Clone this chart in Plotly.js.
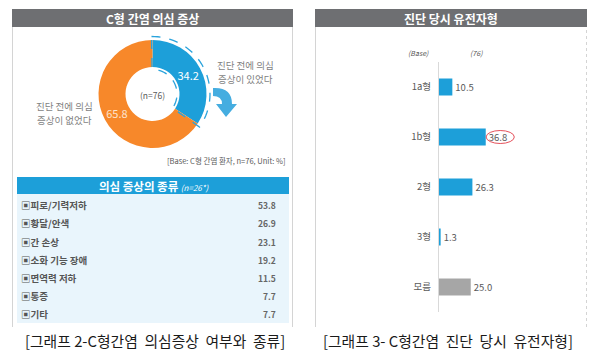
<!DOCTYPE html>
<html>
<head>
<meta charset="utf-8">
<script src="https://cdn.plot.ly/plotly-3.0.1.min.js"></script>
<style>html,body{margin:0;padding:0;background:#fff;}#chart{width:600px;height:356px;}</style>
</head>
<body>
<div id="chart"></div>
<script>
// ---- data ----
const donutLabels = ['진단 전에 의심 증상이 있었다', '진단 전에 의심 증상이 없었다'];
const donutValues = [34.2, 65.8];
const donutN = 76;

const symptomLabels = ['피로/기력저하', '황달/안색', '간 손상', '소화 기능 장애', '면역력 저하', '통증', '기타'];
const symptomValues = [53.8, 26.9, 23.1, 19.2, 11.5, 7.7, 7.7];
const symptomN = 26;

const genoLabels = ['1a형', '1b형', '2형', '3형', '모름'];
const genoValues = [10.5, 36.8, 26.3, 1.3, 25.0];
const genoBase = 76;

// ---- helpers ----
const W = 600, H = 356;
const X = p => p / W;
const Y = p => 1 - p / H;
const KF = '"Noto Sans CJK KR", "Noto Sans", sans-serif';
const BLUE = '#1d9fd9', ORANGE = '#f7882a', GRAY_HDR = '#6e6f72', GRAY_BAR = '#a6a6a6';
const TXT = '#595959';

function rect(x0, y0, x1, y1, fill, layer) {
  return {type: 'rect', xref: 'paper', yref: 'paper', x0: X(x0), x1: X(x1), y0: Y(y1), y1: Y(y0),
          fillcolor: fill, line: {width: 0}, layer: layer || 'below'};
}
function vline(x, y0, y1, color, dash) {
  return {type: 'line', xref: 'paper', yref: 'paper', x0: X(x), x1: X(x), y0: Y(y1), y1: Y(y0),
          line: {color: color, width: 1, dash: dash || 'solid'}, layer: 'below'};
}
function ann(x, y, text, opt) {
  return Object.assign({xref: 'paper', yref: 'paper', x: X(x), y: Y(y), text: text, showarrow: false,
    xanchor: 'center', yanchor: 'middle', font: {family: KF, size: 10, color: TXT}}, opt || {});
}

// donut geometry (pixels)
const cx = 152.5, cy = 94, R = 54;

// dashed outline around the highlighted slice
function slicePath(frac, rIn, rOut) {
  const a0 = -1 * Math.PI / 180, a1 = frac * 2 * Math.PI + 2 * Math.PI / 180;
  const pts = [];
  const n = 40;
  for (let i = 0; i <= n; i++) {
    const a = a0 + (a1 - a0) * i / n;
    pts.push([cx + rOut * Math.sin(a), cy - rOut * Math.cos(a)]);
  }
  for (let i = n; i >= 0; i--) {
    const a = a0 + (a1 - a0) * i / n;
    pts.push([cx + rIn * Math.sin(a), cy - rIn * Math.cos(a)]);
  }
  return 'M' + pts.map(p => X(p[0]).toFixed(5) + ',' + Y(p[1]).toFixed(5)).join(' L') + ' Z';
}
const total = donutValues.reduce((a, b) => a + b, 0);

// curved arrow icon
function P(x, y) { return X(x).toFixed(5) + ',' + Y(y).toFixed(5); }
const arrowPath = 'M' + P(213, 88) + ' Q' + P(232, 87) + ' ' + P(232, 104) +
  ' L' + P(237, 104) + ' L' + P(226, 117) + ' L' + P(216, 104) + ' L' + P(222, 104) +
  ' Q' + P(222, 96) + ' ' + P(213, 96) + ' Z';

const shapes = [
  // left panel
  rect(12, 9, 293, 27, GRAY_HDR),
  vline(12.5, 27, 327, '#d4d4d4'),
  vline(292.5, 27, 327, '#d4d4d4'),
  rect(17, 194, 289, 323, '#e9f5fc'),
  rect(17, 177, 289, 194, BLUE),
  // right panel
  rect(315, 9, 587, 27, GRAY_HDR),
  vline(315.5, 27, 327, '#d4d4d4'),
  vline(586.5, 27, 327, '#d4d4d4', 'dot'),
  // dashed slice outline
  {type: 'path', xref: 'paper', yref: 'paper', path: slicePath(donutValues[0] / total, 24.5, 57.5),
   line: {color: '#2aa3dc', width: 1.3, dash: 'dash'}, fillcolor: 'rgba(0,0,0,0)', layer: 'above'},
  // arrow
  {type: 'path', xref: 'paper', yref: 'paper', path: arrowPath, fillcolor: '#45ade0',
   line: {width: 0}, layer: 'above'},
  // red ellipse on 1b
  {type: 'circle', xref: 'x', yref: 'y', x0: genoValues[1] + 0.3, x1: genoValues[1] + 22.5,
   y0: 1 - 0.13, y1: 1 + 0.13, line: {color: '#e5505a', width: 1}, layer: 'above'}
];

const sideFont = {family: KF, size: 9.5, color: '#7f7f7f'};
const annotations = [
  ann(152.5, 18, '<b>C형 간염 의심 증상</b>', {font: {family: KF, size: 12, color: '#ffffff'}}),
  ann(451, 18, '<b>진단 당시 유전자형</b>', {font: {family: KF, size: 12, color: '#ffffff'}}),
  ann(cx, 95, '(n=' + donutN + ')', {font: {family: KF, size: 8.5, color: TXT}}),
  ann(64, 106, '진단 전에 의심', {font: sideFont}),
  ann(64, 120, '증상이 없었다', {font: sideFont}),
  ann(246, 65.5, '진단 전에 의심', {font: sideFont}),
  ann(246, 79.5, '증상이 있었다', {font: sideFont}),
  ann(288, 160, '[Base: C형 간염 환자, n=' + donutN + ', Unit: %]', {xanchor: 'right', font: {family: KF, size: 7.5, color: TXT}}),
  ann(153, 185.5, '<b>의심 증상의 종류</b> <i><span style="font-size:8px">(n=' + symptomN + '*)</span></i>', {font: {family: KF, size: 11.5, color: '#ffffff'}}),
  ann(418, 53, '<i>(Base)</i>', {font: {family: KF, size: 7, color: TXT}}),
  ann(476, 53, '<i>(' + genoBase + ')</i>', {font: {family: KF, size: 7, color: TXT}}),
  ann(155, 340, '[그래프 2-C형간염  의심증상  여부와  종류]', {font: {family: KF, size: 14.8, color: '#1a1a1a'}}),
  ann(447.5, 340, '[그래프 3- C형간염  진단  당시  유전자형]', {font: {family: KF, size: 14.8, color: '#1a1a1a'}})
];
const rowY = [205, 223, 241.5, 260, 278, 296, 314];
symptomLabels.forEach((lab, i) => {
  annotations.push(ann(19, rowY[i], '<b>▣' + lab + '</b>', {xanchor: 'left', font: {family: KF, size: 9.5, color: '#555555'}}));
  annotations.push(ann(278, rowY[i], '<b>' + symptomValues[i].toFixed(1) + '</b>', {xanchor: 'right', font: {family: KF, size: 8.5, color: '#666666'}}));
});

const data = [
  {
    type: 'pie', values: donutValues, labels: donutLabels, sort: false, direction: 'clockwise', rotation: 0,
    hole: 0.5, marker: {colors: [BLUE, ORANGE], line: {width: 0}},
    texttemplate: '%{value:.1f}', textposition: 'inside', insidetextorientation: 'horizontal',
    textfont: {family: KF, size: 11, color: ['#ffffff', '#fde3cc']},
    domain: {x: [X(cx - R), X(cx + R)], y: [Y(cy + R), Y(cy - R)]},
    showlegend: false, hoverinfo: 'none'
  },
  {
    type: 'bar', orientation: 'h', x: genoValues, y: genoLabels,
    marker: {color: [BLUE, BLUE, BLUE, BLUE, GRAY_BAR], line: {width: 0}},
    width: 0.34, texttemplate: '%{x:.1f}', textposition: 'outside', cliponaxis: false,
    textfont: {family: KF, size: 9.5, color: TXT}, showlegend: false, hoverinfo: 'none',
    xaxis: 'x', yaxis: 'y'
  }
];

const layout = {
  width: 600, height: 356, margin: {l: 0, r: 0, t: 0, b: 0},
  paper_bgcolor: '#ffffff', plot_bgcolor: 'rgba(0,0,0,0)',
  showlegend: false,
  xaxis: {domain: [X(439), X(587)], range: [0, 148 / 1.27], visible: false, fixedrange: true},
  yaxis: {domain: [Y(312), Y(62)], autorange: false, range: [4.5, -0.5], type: 'category',
          showline: true, linecolor: '#d9d9d9', linewidth: 1, showgrid: false, zeroline: false,
          ticks: 'outside', ticklen: 5, tickcolor: 'rgba(0,0,0,0)',
          tickfont: {family: KF, size: 9.5, color: TXT}, anchor: 'x'},
  shapes: shapes,
  annotations: annotations
};

Plotly.newPlot('chart', data, layout, {staticPlot: true, displayModeBar: false});
</script>
</body>
</html>
